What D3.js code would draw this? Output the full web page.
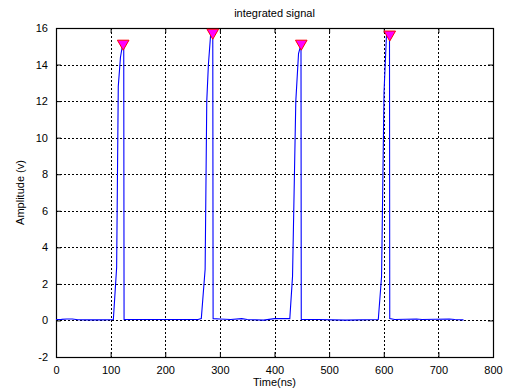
<!DOCTYPE html>
<html>
<head>
<meta charset="utf-8">
<script src="https://cdn.jsdelivr.net/npm/d3@7"></script>
<style>
body { margin: 0; background: #fff; }
text { font-family: "Liberation Sans", Arial, sans-serif; }
</style>
</head>
<body>
<div id="chart"></div>
<script>
// signal samples
var timeNs = [0, 10, 20, 30, 40, 60, 80, 100, 105, 111, 114, 118, 122, 124, 124.6, 140, 200, 260, 266, 273, 276, 279, 283, 287, 287.6, 300, 320, 340, 350, 380, 400, 428, 433, 439, 444, 448.5, 449, 480, 530, 590, 596, 600.5, 605, 610.5, 611, 620, 660, 670, 720, 730, 746];
var amplitude = [0.05, 0.06, 0.08, 0.08, 0.04, 0.03, 0.03, 0.04, 0.05, 2.9, 12.8, 14.4, 15.1, 15.1, 0.05, 0.05, 0.05, 0.05, 0.1, 2.8, 12, 14, 15.6, 15.7, 0.1, 0.08, 0.05, 0.1, 0.05, 0.02, 0.1, 0.1, 2.4, 12, 14.6, 15.1, 0.05, 0.05, 0.02, 0.05, 2.4, 12.5, 15.6, 15.7, 0.1, 0.05, 0.08, 0.05, 0.08, 0.05, 0.03];

var peakTime = [123, 287, 449, 611];
var peakValue = [15.15, 15.75, 15.15, 15.65];

var xTicks = [0, 100, 200, 300, 400, 500, 600, 700, 800];
var yTicks = [-2, 0, 2, 4, 6, 8, 10, 12, 14, 16];

var width = 508, height = 391;
var margin = {top: 28, right: 15, bottom: 34, left: 56};
var plotW = width - margin.left - margin.right,
  plotH = height - margin.top - margin.bottom;

var svg = d3.select("#chart").append("svg")
  .attr("width", width)
  .attr("height", height);

var g = svg.append("g")
  .attr("transform", "translate(" + margin.left + "," + margin.top + ")");

var x = d3.scaleLinear().domain([0, 800]).range([0, plotW]);
var y = d3.scaleLinear().domain([-2, 16]).range([plotH, 0]);

// grid
g.selectAll(".vgrid")
  .data(xTicks.slice(1, -1))
  .enter().append("line")
  .attr("x1", function(d) { return Math.round(x(d)) + 0.5; })
  .attr("x2", function(d) { return Math.round(x(d)) + 0.5; })
  .attr("y1", 0).attr("y2", plotH)
  .attr("stroke", "#000")
  .attr("stroke-dasharray", "2,2");

g.selectAll(".hgrid")
  .data(yTicks.slice(1, -1))
  .enter().append("line")
  .attr("y1", function(d) { return Math.round(y(d)) + 0.5; })
  .attr("y2", function(d) { return Math.round(y(d)) + 0.5; })
  .attr("x1", 0).attr("x2", plotW)
  .attr("stroke", "#000")
  .attr("stroke-dasharray", "2,2");

// axes, ticks inward on all sides
var plain = function(d) { return String(d); };
var xAxis = d3.axisBottom(x).tickValues(xTicks).tickSizeInner(-5).tickSizeOuter(0).tickPadding(9).tickFormat(plain);
var yAxis = d3.axisLeft(y).tickValues(yTicks).tickSizeInner(-5).tickSizeOuter(0).tickPadding(8).tickFormat(plain);

g.append("g")
  .attr("class", "x axis")
  .attr("transform", "translate(0," + plotH + ")")
  .call(xAxis);
g.append("g")
  .attr("class", "y axis")
  .call(yAxis);
g.append("g")
  .attr("transform", "translate(0,0)")
  .call(d3.axisTop(x).tickValues(xTicks).tickSizeInner(-5).tickSizeOuter(0).tickFormat(""));
g.append("g")
  .attr("transform", "translate(" + plotW + ",0)")
  .call(d3.axisRight(y).tickValues(yTicks).tickSizeInner(-5).tickSizeOuter(0).tickFormat(""));

g.selectAll(".domain").remove();
g.selectAll(".tick line").attr("stroke", "#000");
g.selectAll(".tick text")
  .attr("fill", "#000")
  .style("font-size", "11px");

g.append("rect")
  .attr("x", 0.5).attr("y", 0.5)
  .attr("width", plotW).attr("height", plotH)
  .attr("fill", "none")
  .attr("stroke", "#000")
  .attr("stroke-width", 1.2);

// signal
var points = timeNs.map(function(t, i) { return [t, amplitude[i]]; });
var line = d3.line()
  .x(function(d) { return x(d[0]); })
  .y(function(d) { return y(d[1]); });

g.append("path")
  .datum(points)
  .attr("d", line)
  .attr("fill", "none")
  .attr("stroke", "#0000ff")
  .attr("stroke-width", 1.1);

// peak markers
var tri = d3.symbol().type(d3.symbolTriangle).size(58);
g.selectAll(".peak")
  .data(peakTime)
  .enter().append("path")
  .attr("d", tri)
  .attr("transform", function(d, i) { return "translate(" + x(d) + "," + y(peakValue[i]) + ") rotate(180)"; })
  .attr("fill", "#ff00ff")
  .attr("stroke", "#ff0000")
  .attr("stroke-width", 1);

// labels
svg.append("text")
  .attr("x", margin.left + plotW / 2)
  .attr("y", 17)
  .attr("text-anchor", "middle")
  .style("font-size", "11px")
  .text("integrated signal");

svg.append("text")
  .attr("x", margin.left + plotW / 2)
  .attr("y", 386)
  .attr("text-anchor", "middle")
  .style("font-size", "11px")
  .text("Time(ns)");

svg.append("text")
  .attr("transform", "rotate(-90)")
  .attr("x", -(margin.top + plotH / 2))
  .attr("y", 24)
  .attr("text-anchor", "middle")
  .style("font-size", "11px")
  .text("Amplitude (v)");
</script>
</body>
</html>
